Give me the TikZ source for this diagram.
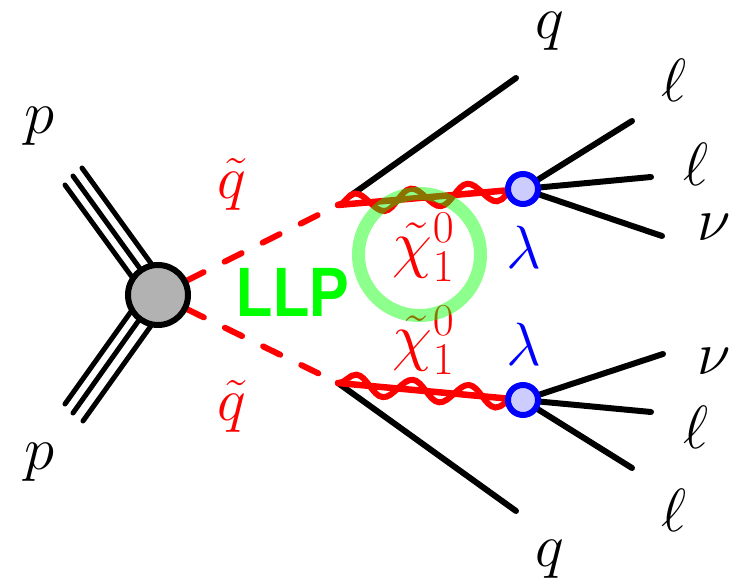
\RequirePackage{fix-cm}
\documentclass[tikz,border=0pt]{standalone}
\usepackage{fontspec}
\newfontfamily\llpfont{Liberation Sans}
\usetikzlibrary{decorations.pathmorphing,calc}
\definecolor{blobgray}{RGB}{178,178,178}
\definecolor{vtxfill}{RGB}{204,204,255}
\tikzset{
  x=1pt,y=-1pt,
  lab/.style={inner sep=0pt,font=\fontsize{61}{68}\selectfont},
  rlab/.style={lab,text=red},
  blab/.style={lab,text=blue},
  chilab/.style={rlab,font=\fontsize{65}{72}\selectfont},
  blobnode/.style={circle,draw=black,fill=blobgray,line width=6pt,minimum size=60pt,inner sep=0pt},
  vtx/.style={circle,draw=blue,fill=vtxfill,line width=6pt,minimum size=30pt,inner sep=0pt},
  leg/.style={black,line width=6pt,line cap=round},
  beam/.style={black,line width=5pt,line cap=round},
  squark/.style={red,line width=6pt,line cap=round,dash pattern=on 19pt off 23.5pt,dash phase=10.5pt},
  neut/.style={red,line width=6.5pt,line cap=round},
  wig/.style={neut,line width=6pt,decorate,decoration={snake,segment length=56.5pt,amplitude=10pt}},
}
\begin{document}
\begin{tikzpicture}
\useasboundingbox (0,0) rectangle (737,580);
\coordinate (top) at (338,205);
\coordinate (topq) at (350,196);
\coordinate (bot) at (338,383);
\coordinate (b1) at (65,185); \coordinate (b2) at (73,176); \coordinate (b3) at (82,168);
\coordinate (b4) at (65,404); \coordinate (b5) at (73,413); \coordinate (b6) at (83,421);
\coordinate (e1) at (140,288); \coordinate (e2) at (149,281); \coordinate (e3) at (158,273);
\coordinate (e4) at (140,299); \coordinate (e5) at (149,306); \coordinate (e6) at (158,316);
\coordinate (qt) at (516,78); \coordinate (qb) at (516,511);
\coordinate (f1) at (632,121); \coordinate (f2) at (651,177); \coordinate (f3) at (662,236);
\coordinate (f4) at (663,354); \coordinate (f5) at (651,412); \coordinate (f6) at (632,468);
\coordinate (bc) at (158,295);
\coordinate (vt) at (523,189);
\coordinate (vb) at (523,400);
% beams
\draw[beam] (b1) -- (e1);
\draw[beam] (b2) -- (e2);
\draw[beam] (b3) -- (e3);
\draw[beam] (b4) -- (e4);
\draw[beam] (b5) -- (e5);
\draw[beam] (b6) -- (e6);
% squarks
\draw[squark] (bc) -- (top);
\draw[squark] (bc) -- (bot);
% quarks
\draw[leg] (topq) -- (qt);
\draw[leg] (bot) -- (qb);
% decay fermions
\foreach \e in {f1,f2,f3} \draw[leg] (vt) -- (\e);
\foreach \e in {f4,f5,f6} \draw[leg] (vb) -- (\e);
% neutralinos
\draw[neut] (top) -- (vt);
\draw[wig] (top) -- (vt);
\draw[neut] (bot) -- (vb);
\draw[wig] (bot) -- (vb);
% vertices
\node[blobnode] (blob) at (bc) {};
\node[vtx] (vtop) at (vt) {};
\node[vtx] (vbot) at (vb) {};
% labels
\node[lab] (p1) at (39,126) {$p$};
\node[lab] (p2) at (39,462.5) {$p$};
\node[lab] (q1) at (550,31) {$q$};
\node[lab] (q2) at (550,559) {$q$};
\node[lab] (l1) at (674,80) {$\ell$};
\node[lab] (l2) at (696,164) {$\ell$};
\node[lab] (n1) at (714,227) {$\nu$};
\node[lab] (n2) at (714,361) {$\nu$};
\node[lab] (l3) at (696,427) {$\ell$};
\node[lab] (l4) at (674,510) {$\ell$};
\node[rlab] (s1) at (231.5,184.5) {$\tilde q$};
\node[rlab] (s2) at (231.5,406) {$\tilde q$};
\node[chilab] (c1) at (423.5,247.5) {$\tilde\chi_1^0$};
\node[chilab] (c2) at (423.5,340.5) {$\tilde\chi_1^0$};
\node[blab] (la1) at (523.5,247) {$\lambda$};
\node[blab] (la2) at (523.5,344) {$\lambda$};
\node[inner sep=0pt,text=green,font=\llpfont\bfseries\fontsize{70}{78}\selectfont] (llp) at (293,292) {\scalebox{.85}[1]{LLP}};
% ring
\node[circle,draw=green,draw opacity=.45,line width=13pt,minimum size=122pt,inner sep=0pt] (ring) at (419.5,254.5) {};
\end{tikzpicture}
\end{document}
